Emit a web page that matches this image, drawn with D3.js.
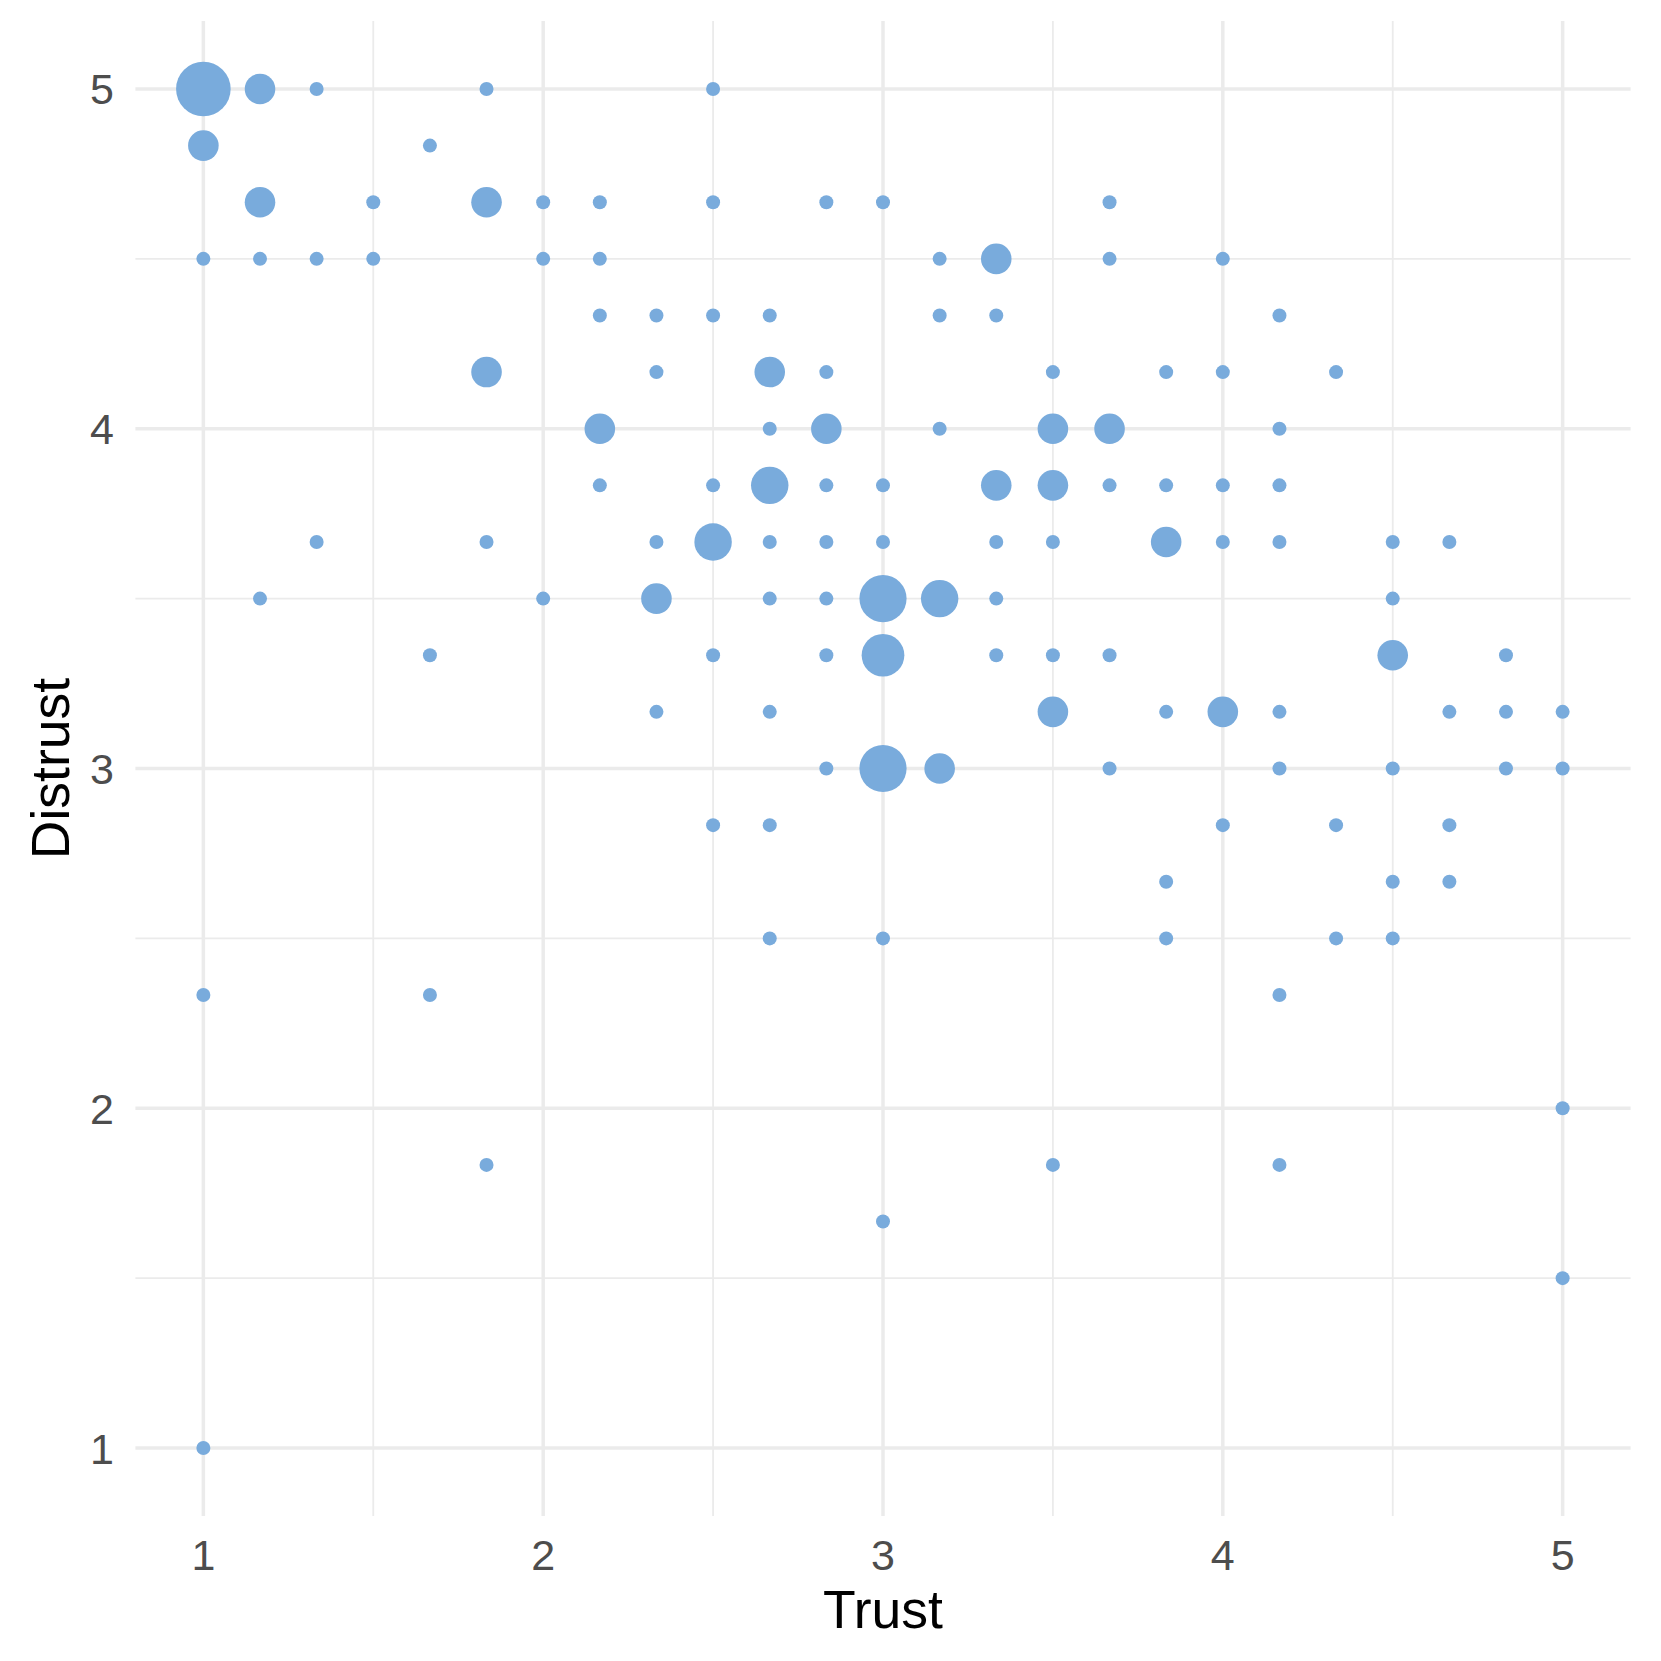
<!DOCTYPE html>
<html>
<head>
<meta charset="utf-8">
<script src="https://cdn.jsdelivr.net/npm/d3@7"></script>
<style>
  html, body { margin: 0; padding: 0; background: #fff; }
  svg { display: block; }
</style>
</head>
<body>
<svg id="chart" width="1661" height="1661"></svg>
<script>
// Data: Trust (x), Distrust (y), count of observations at that point
const trust = [
  1, 1.1667, 1.3333, 1.8333, 2.5,
  1, 1.6667,
  1.1667, 1.5, 1.8333, 2, 2.1667, 2.5, 2.8333, 3, 3.6667,
  1, 1.1667, 1.3333, 1.5, 2, 2.1667, 3.1667, 3.3333, 3.6667, 4,
  2.1667, 2.3333, 2.5, 2.6667, 3.1667, 3.3333, 4.1667,
  1.8333, 2.3333, 2.6667, 2.8333, 3.5, 3.8333, 4, 4.3333,
  2.1667, 2.6667, 2.8333, 3.1667, 3.5, 3.6667, 4.1667,
  2.1667, 2.5, 2.6667, 2.8333, 3, 3.3333, 3.5, 3.6667, 3.8333, 4, 4.1667,
  1.3333, 1.8333, 2.3333, 2.5, 2.6667, 2.8333, 3, 3.3333, 3.5, 3.8333, 4, 4.1667, 4.5, 4.6667,
  1.1667, 2, 2.3333, 2.6667, 2.8333, 3, 3.1667, 3.3333, 4.5,
  1.6667, 2.5, 2.8333, 3, 3.3333, 3.5, 3.6667, 4.5, 4.8333,
  2.3333, 2.6667, 3.5, 3.8333, 4, 4.1667, 4.6667, 4.8333, 5,
  2.8333, 3, 3.1667, 3.6667, 4.1667, 4.5, 4.8333, 5,
  2.5, 2.6667, 4, 4.3333, 4.6667,
  3.8333, 4.5, 4.6667,
  2.6667, 3, 3.8333, 4.3333, 4.5,
  1, 1.6667, 4.1667,
  5,
  1.8333, 3.5, 4.1667,
  3,
  5,
  1
];
const distrust = [
  5, 5, 5, 5, 5,
  4.8333, 4.8333,
  4.6667, 4.6667, 4.6667, 4.6667, 4.6667, 4.6667, 4.6667, 4.6667, 4.6667,
  4.5, 4.5, 4.5, 4.5, 4.5, 4.5, 4.5, 4.5, 4.5, 4.5,
  4.3333, 4.3333, 4.3333, 4.3333, 4.3333, 4.3333, 4.3333,
  4.1667, 4.1667, 4.1667, 4.1667, 4.1667, 4.1667, 4.1667, 4.1667,
  4, 4, 4, 4, 4, 4, 4,
  3.8333, 3.8333, 3.8333, 3.8333, 3.8333, 3.8333, 3.8333, 3.8333, 3.8333, 3.8333, 3.8333,
  3.6667, 3.6667, 3.6667, 3.6667, 3.6667, 3.6667, 3.6667, 3.6667, 3.6667, 3.6667, 3.6667, 3.6667, 3.6667, 3.6667,
  3.5, 3.5, 3.5, 3.5, 3.5, 3.5, 3.5, 3.5, 3.5,
  3.3333, 3.3333, 3.3333, 3.3333, 3.3333, 3.3333, 3.3333, 3.3333, 3.3333,
  3.1667, 3.1667, 3.1667, 3.1667, 3.1667, 3.1667, 3.1667, 3.1667, 3.1667,
  3, 3, 3, 3, 3, 3, 3, 3,
  2.8333, 2.8333, 2.8333, 2.8333, 2.8333,
  2.6667, 2.6667, 2.6667,
  2.5, 2.5, 2.5, 2.5, 2.5,
  2.3333, 2.3333, 2.3333,
  2,
  1.8333, 1.8333, 1.8333,
  1.6667,
  1.5,
  1
];
const counts = [
  7, 2, 1, 1, 1,
  2, 1,
  2, 1, 2, 1, 1, 1, 1, 1, 1,
  1, 1, 1, 1, 1, 1, 1, 2, 1, 1,
  1, 1, 1, 1, 1, 1, 1,
  2, 1, 2, 1, 1, 1, 1, 1,
  2, 1, 2, 1, 2, 2, 1,
  1, 1, 3, 1, 1, 2, 2, 1, 1, 1, 1,
  1, 1, 1, 3, 1, 1, 1, 1, 1, 2, 1, 1, 1, 1,
  1, 1, 2, 1, 1, 5, 3, 1, 1,
  1, 1, 1, 4, 1, 1, 1, 2, 1,
  1, 1, 2, 1, 2, 1, 1, 1, 1,
  1, 5, 2, 1, 1, 1, 1, 1,
  1, 1, 1, 1, 1,
  1, 1, 1,
  1, 1, 1, 1, 1,
  1, 1, 1,
  1,
  1, 1, 1,
  1,
  1,
  1
];
const majorTicks = [1, 2, 3, 4, 5];
const minorTicks = [1.5, 2.5, 3.5, 4.5];
const xTitle = "Trust";
const yTitle = "Distrust";

const points = trust.map((t, i) => ({ x: t, y: distrust[i], n: counts[i] }));

const svg = d3.select("#chart");
const panel = { left: 135.4, right: 1630.6, top: 21, bottom: 1516 };

const x = d3.scaleLinear().domain([0.8, 5.2]).range([panel.left, panel.right]);
const y = d3.scaleLinear().domain([0.8, 5.2]).range([panel.bottom, panel.top]);
const maxN = d3.max(counts);
const r = d3.scaleSqrt().domain([0, maxN - 1]).range([7, 27.3]);

const grid = svg.append("g");
// minor grid
grid.selectAll("line.mx").data(minorTicks).join("line")
  .attr("x1", d => x(d)).attr("x2", d => x(d))
  .attr("y1", panel.top).attr("y2", panel.bottom)
  .attr("stroke", "#EBEBEB").attr("stroke-width", 1.8);
grid.selectAll("line.my").data(minorTicks).join("line")
  .attr("y1", d => y(d)).attr("y2", d => y(d))
  .attr("x1", panel.left).attr("x2", panel.right)
  .attr("stroke", "#EBEBEB").attr("stroke-width", 1.8);
// major grid
grid.selectAll("line.Mx").data(majorTicks).join("line")
  .attr("x1", d => x(d)).attr("x2", d => x(d))
  .attr("y1", panel.top).attr("y2", panel.bottom)
  .attr("stroke", "#EBEBEB").attr("stroke-width", 3.5);
grid.selectAll("line.My").data(majorTicks).join("line")
  .attr("y1", d => y(d)).attr("y2", d => y(d))
  .attr("x1", panel.left).attr("x2", panel.right)
  .attr("stroke", "#EBEBEB").attr("stroke-width", 3.5);

// points
svg.append("g").selectAll("circle").data(points).join("circle")
  .attr("cx", d => x(d.x))
  .attr("cy", d => y(d.y))
  .attr("r", d => r(d.n - 1))
  .attr("fill", "#79ABDC");

const font = "'Liberation Sans', Arial, Helvetica, sans-serif";

// y tick labels
svg.append("g").selectAll("text").data(majorTicks).join("text")
  .attr("x", 114)
  .attr("y", d => y(d))
  .attr("dy", "0.36em")
  .attr("text-anchor", "end")
  .attr("font-family", font)
  .attr("font-size", 43)
  .attr("fill", "#4D4D4D")
  .text(d => d);

// x tick labels
svg.append("g").selectAll("text").data(majorTicks).join("text")
  .attr("x", d => x(d))
  .attr("y", 1570)
  .attr("text-anchor", "middle")
  .attr("font-family", font)
  .attr("font-size", 43)
  .attr("fill", "#4D4D4D")
  .text(d => d);

// axis titles
svg.append("text")
  .attr("x", (panel.left + panel.right) / 2)
  .attr("y", 1628)
  .attr("text-anchor", "middle")
  .attr("font-family", font)
  .attr("font-size", 53.5)
  .attr("fill", "#000")
  .text(xTitle);

svg.append("text")
  .attr("transform", `translate(69, ${(panel.top + panel.bottom) / 2}) rotate(-90)`)
  .attr("text-anchor", "middle")
  .attr("font-family", font)
  .attr("font-size", 53.5)
  .attr("fill", "#000")
  .text(yTitle);
</script>
</body>
</html>
